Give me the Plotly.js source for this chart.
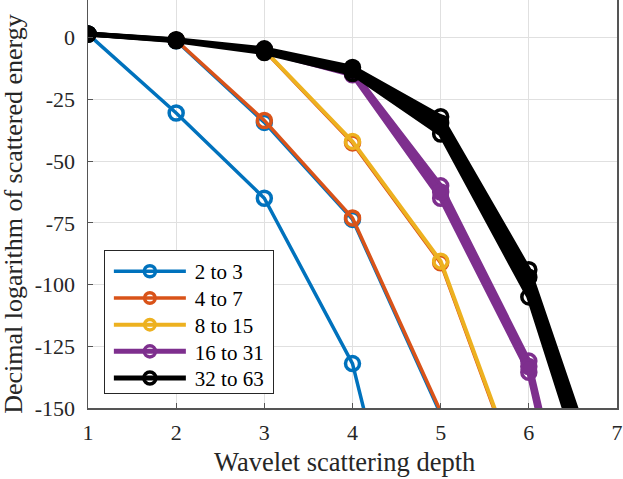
<!DOCTYPE html>
<html>
<head>
<meta charset="utf-8">
<script src="https://cdn.plot.ly/plotly-3.0.1.min.js"></script>
<style>html,body{margin:0;padding:0;background:#fff;} #chart{width:623px;height:479px;}</style>
</head>
<body>
<div id="chart"></div>
<script>
// ---- data ----
const groupNames = ["2 to 3", "4 to 7", "8 to 15", "16 to 31", "32 to 63"];

const blueX = [1, 2, 3, 4, 5];
const blueY = [1.5, -30.5, -65, -132, -276];
const blueUnderX = [2, 3, 4, 5];
const blueUnderY = [-1.2, -34.3, -73.6, -152.5];

const orangeX = [2, 3, 4, 5];
const orangeY = [-1, -33.5, -73, -151.5];
const orangeUnderX = [3, 4, 5, 6];
const orangeUnderY = [-5.2, -42.6, -91.2, -189];

const yellowX = [3, 4, 5, 6];
const yellowY = [-5, -42, -90.5, -188];

const purpleX = [3, 4, 5, 6, 7];
const purpleHiY = [-4.8, -13.5, -60, -131, -283];
const purpleMidY = [-5.1, -14.2, -62.5, -133.2, -288];
const purpleLoY = [-5.5, -15, -65, -135.5, -293];

const blackX = [1, 2, 3, 4, 5, 6, 7];
const blackHiY = [1.5, -0.8, -4.5, -12, -32, -94, -199];
const blackMidY = [1.5, -1, -5.2, -13.2, -34.5, -97, -206];
const blackLoY = [1.5, -1.2, -6, -14.5, -39, -105, -217];

const xTicks = [1, 2, 3, 4, 5, 6, 7];
const yTicks = [0, -25, -50, -75, -100, -125, -150];
const yMin = -150, yMax = 15.3;

const xTitle = "Wavelet scattering depth";
const yTitle = "Decimal logarithm of scattered energy";

// ---- styling ----
const C = {blue: "#0072BD", orange: "#D95319", yellow: "#EDB120", purple: "#7E2F8E", black: "#000000"};
const FONT = "Liberation Serif";

function tr(x, y, color, lw, name, show, opts) {
  opts = opts || {};
  const t = {
    x: x, y: y, type: "scatter", mode: "lines+markers",
    name: name, showlegend: show,
    line: {color: color, width: lw},
    marker: {symbol: opts.symbol || "circle-open", color: color, opacity: 1, line: {width: 3.5, color: color},
             size: y.map(v => (v < yMin ? 0 : 14))},
    hoverinfo: "skip"
  };
  if (opts.fill) { t.fill = "tonexty"; t.fillcolor = color; }
  return t;
}

const data = [
  tr(blueUnderX, blueUnderY, C.blue, 3.5, groupNames[0], false),
  tr(blueX, blueY, C.blue, 3.5, groupNames[0], true),
  tr(orangeUnderX, orangeUnderY, C.orange, 3.5, groupNames[1], false),
  tr(orangeX, orangeY, C.orange, 3.5, groupNames[1], true),
  tr(yellowX, yellowY, C.yellow, 4, groupNames[2], true),
  tr(purpleX, purpleLoY, C.purple, 5, groupNames[3], false),
  tr(purpleX, purpleHiY, C.purple, 5, groupNames[3], true, {fill: true}),
  tr(purpleX, purpleMidY, C.purple, 5, groupNames[3], false, {symbol: "circle"}),
  tr(blackX, blackLoY, C.black, 5, groupNames[4], false),
  tr(blackX, blackHiY, C.black, 5, groupNames[4], true, {fill: true}),
  tr(blackX, blackMidY, C.black, 5, groupNames[4], false, {symbol: "circle"})
];

const axisCommon = {
  showgrid: true, gridcolor: "#e0e0e0", gridwidth: 1,
  zeroline: false, showline: true, linecolor: "#555555", linewidth: 1.5,
  ticks: "inside", ticklen: 5, tickcolor: "#555555", tickwidth: 1.2,
  tickfont: {family: FONT, size: 22, color: "#262626"}
};

const layout = {
  width: 623, height: 479,
  margin: {l: 88, r: 6, t: 0, b: 71, pad: 0},
  paper_bgcolor: "#ffffff", plot_bgcolor: "#ffffff",
  font: {family: FONT, color: "#262626"},
  xaxis: Object.assign({}, axisCommon, {
    range: [1, 7], tickvals: xTicks, ticktext: xTicks.map(String), mirror: false,
    ticklabelstandoff: 4
  }),
  yaxis: Object.assign({}, axisCommon, {
    range: [yMin, yMax], tickvals: yTicks, ticktext: yTicks.map(String), mirror: true,
    ticklabelstandoff: 7
  }),
  annotations: [
    {text: xTitle, xref: "paper", yref: "paper", x: 0.484, y: -0.132, xanchor: "center", yanchor: "middle",
     showarrow: false, font: {family: FONT, size: 26.5, color: "#262626"}},
    {text: yTitle, xref: "paper", yref: "paper", x: -0.140, y: -0.018, xanchor: "center", yanchor: "bottom",
     textangle: -90, showarrow: false, font: {family: FONT, size: 26, color: "#262626"}}
  ],
  legend: {
    x: 0.030, y: 0.387, xanchor: "left", yanchor: "top",
    bgcolor: "#ffffff", bordercolor: "#262626", borderwidth: 1,
    font: {family: FONT, size: 21, color: "#000000"},
    itemwidth: 80, tracegroupgap: 0, traceorder: "normal"
  },
  showlegend: true
};

Plotly.newPlot("chart", data, layout, {staticPlot: true, displayModeBar: false}).then(function (gd) {
  gd.querySelectorAll(".legend .legendlines path").forEach(function (p) { p.setAttribute("d", "M9,0h72"); });
  gd.querySelectorAll(".legend .legendpoints path").forEach(function (p) { p.setAttribute("transform", "translate(45,0)"); });
  gd.querySelectorAll(".legend .legendfill path").forEach(function (p) { p.setAttribute("d", ""); });
  // tighter row spacing like the reference legend
  var items = gd.querySelectorAll(".legend .traces");
  var y0 = null, rowH = 26.7;
  items.forEach(function (g, i) {
    var m = /translate\(\s*([-\d.]+)[ ,]+([-\d.]+)\s*\)/.exec(g.getAttribute("transform") || "");
    if (!m) return;
    if (y0 === null) y0 = parseFloat(m[2]);
    g.setAttribute("transform", "translate(" + m[1] + "," + (y0 + i * rowH) + ")");
  });
  var bg = gd.querySelector(".legend rect.bg");
  if (bg) {
    bg.setAttribute("height", 143);
    bg.setAttribute("width", parseFloat(bg.getAttribute("width")) + 4);
  }
});
</script>
</body>
</html>
